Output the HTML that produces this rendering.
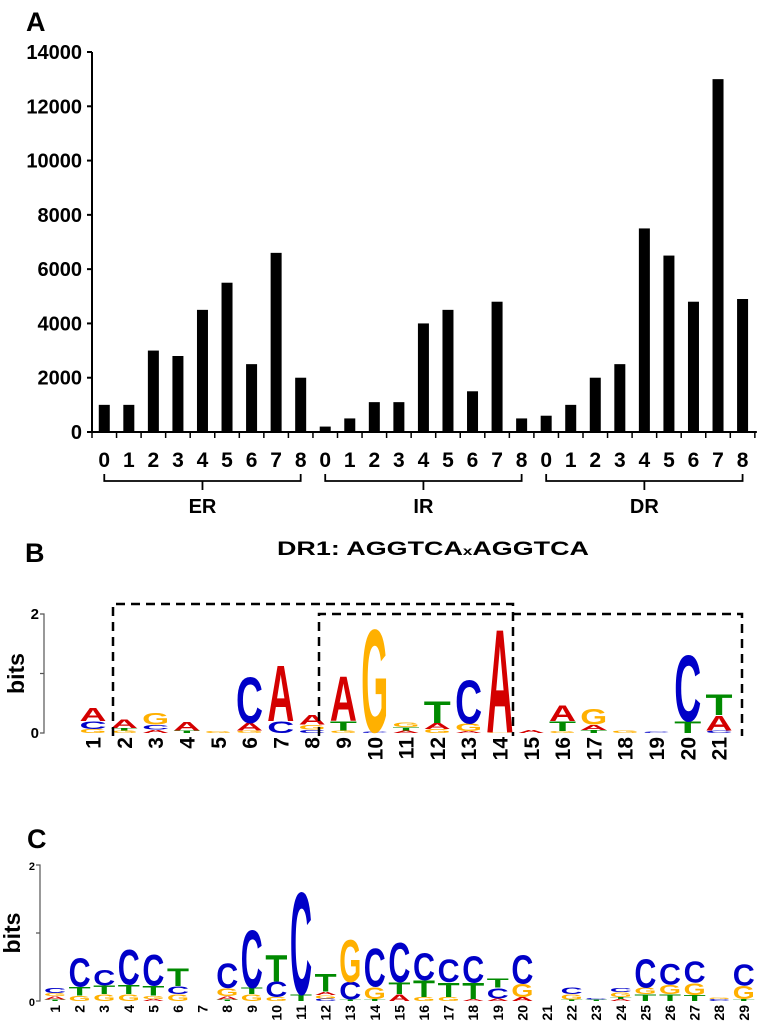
<!DOCTYPE html>
<html><head><meta charset="utf-8">
<style>
html,body{margin:0;padding:0;background:#fff;}
svg{display:block;font-family:"Liberation Sans Narrow","Liberation Sans",sans-serif;}
</style></head>
<body>
<svg id="root" width="760" height="1023" viewBox="0 0 760 1023" xmlns="http://www.w3.org/2000/svg">
  <text x="26" y="31" font-size="27" font-weight="bold" font-family="Liberation Sans,sans-serif">A</text>
  <g id="bars"></g>
  <text x="25" y="562" font-size="27" font-weight="bold" font-family="Liberation Sans,sans-serif">B</text>
  <text x="277" y="555" font-size="19" font-weight="bold" textLength="312" lengthAdjust="spacingAndGlyphs" font-family="Liberation Sans,sans-serif">DR1: AGGTCA<tspan font-size="12">x</tspan>AGGTCA</text>
  <g id="logoB"></g>
  <text x="27" y="848" font-size="27" font-weight="bold">C</text>
  <g id="logoC"></g>
</svg>
<script>
const NS="http://www.w3.org/2000/svg";
// ---- Bar chart data ----
const groups=["ER","IR","DR"];
const spacers=["0","1","2","3","4","5","6","7","8"];
const erValues=[1000,1000,3000,2800,4500,5500,2500,6600,2000];
const irValues=[200,500,1100,1100,4000,4500,1500,4800,500];
const drValues=[600,1000,2000,2500,7500,6500,4800,13000,4900];
const yTicks=[0,2000,4000,6000,8000,10000,12000,14000];

// ---- Logo B data: stacks bottom->top [letter, bits] ----
const logoBLabels=["1","2","3","4","5","6","7","8","9","10","11","12","13","14","15","16","17","18","19","20","21"];
const logoBStacks=[
 [["G",0.07],["C",0.13],["A",0.22]],
 [["G",0.04],["T",0.04],["A",0.14]],
 [["A",0.06],["C",0.08],["G",0.2]],
 [["T",0.04],["A",0.14]],
 [["G",0.03]],
 [["G",0.04],["A",0.13],["C",0.8]],
 [["C",0.2],["A",0.97]],
 [["C",0.06],["G",0.08],["A",0.17]],
 [["G",0.04],["T",0.16],["A",0.77]],
 [["C",0.02],["G",1.78]],
 [["A",0.04],["T",0.06],["G",0.08]],
 [["G",0.07],["A",0.1],["T",0.38]],
 [["A",0.03],["G",0.13],["C",0.75]],
 [["G",0.01],["A",1.79]],
 [["A",0.05]],
 [["G",0.03],["T",0.17],["A",0.27]],
 [["T",0.05],["A",0.09],["G",0.27]],
 [["G",0.04]],
 [["C",0.02]],
 [["T",0.2],["C",1.14]],
 [["C",0.04],["A",0.26],["T",0.36]]
];
// ---- Logo C data ----
const logoCLabels=["1","2","3","4","5","6","7","8","9","10","11","12","13","14","15","16","17","18","19","20","21","22","23","24","25","26","27","28","29"];
const logoCStacks=[
 [["T",0.02],["A",0.05],["G",0.05],["C",0.08]],
 [["G",0.08],["T",0.13],["C",0.43]],
 [["G",0.1],["T",0.13],["C",0.23]],
 [["G",0.1],["T",0.14],["C",0.53]],
 [["A",0.03],["G",0.05],["T",0.15],["C",0.47]],
 [["G",0.1],["C",0.12],["T",0.26]],
 [],
 [["T",0.02],["A",0.05],["G",0.12],["C",0.37]],
 [["G",0.1],["T",0.1],["C",0.87]],
 [["G",0.06],["C",0.23],["T",0.4]],
 [["T",0.1],["C",1.55]],
 [["C",0.04],["G",0.05],["A",0.05],["T",0.26]],
 [["T",0.02],["C",0.26],["G",0.64]],
 [["T",0.03],["G",0.18],["C",0.58]],
 [["A",0.1],["T",0.18],["C",0.6]],
 [["G",0.06],["T",0.25],["C",0.41]],
 [["G",0.06],["T",0.22],["C",0.34]],
 [["A",0.03],["T",0.24],["C",0.4]],
 [["A",0.04],["C",0.16],["T",0.14]],
 [["A",0.06],["G",0.2],["C",0.43]],
 [],
 [["T",0.02],["G",0.08],["C",0.1]],
 [["T",0.02],["C",0.02]],
 [["A",0.03],["T",0.03],["G",0.07],["C",0.06]],
 [["T",0.1],["G",0.1],["C",0.43]],
 [["T",0.1],["G",0.14],["C",0.31]],
 [["T",0.09],["G",0.18],["C",0.32]],
 [["C",0.03],["G",0.02]],
 [["T",0.03],["G",0.2],["C",0.32]]
];
const colors={A:"#d40000",C:"#0000c8",G:"#ffb000",T:"#008a00"};

function el(tag,attrs,parent){const e=document.createElementNS(NS,tag);for(const k in attrs)e.setAttribute(k,attrs[k]);if(parent)parent.appendChild(e);return e;}

// ---- Bar chart ----
(function(){
 const g=document.getElementById('bars');
 const x0=92,step=24.55,y0=432,yTop=52,yMax=14000;
 const ys=v=>y0-(v/yMax)*(y0-yTop);
 const all=[erValues,irValues,drValues];
 const axY=el('line',{x1:x0,y1:yTop,x2:x0,y2:y0,stroke:'#000','stroke-width':2},g);
 
 
 yTicks.forEach(t=>{
  const ln=el('line',{x1:x0-5,y1:ys(t),x2:x0,y2:ys(t),stroke:'#000','stroke-width':2},g);
  
  
  const tx=el('text',{x:x0-10,y:ys(t)+7,'font-size':20,'font-weight':'bold','text-anchor':'end'},g);
  tx.textContent=t;
  
  
 });
 const n=groups.length*spacers.length;
 const axX=el('line',{x1:x0-4,y1:y0,x2:x0+n*step+2,y2:y0,stroke:'#000','stroke-width':2},g);
 
 
 for(let i=0;i<=n;i++){
  const t=el('line',{x1:x0+i*step,y1:y0,x2:x0+i*step,y2:y0+6,stroke:'#000','stroke-width':1.5},g);
  
  
 }
 all.forEach((vals,gi)=>{
  vals.forEach((v,i)=>{
   const idx=gi*spacers.length+i;
   const cx=x0+(idx+0.5)*step;
   const r=el('rect',{x:cx-5.5,y:ys(v),width:11,height:y0-ys(v),fill:'#000'},g);
   
   
   const tl=el('text',{x:cx,y:467,'font-size':21,'font-weight':'bold','text-anchor':'middle'},g);
   tl.textContent=spacers[i];
   
   
  });
  const xa=x0+(gi*spacers.length+0.5)*step, xb=x0+(gi*spacers.length+spacers.length-0.5)*step, xm=(xa+xb)/2;
  const br=el('path',{d:`M${xa} 474 V481 H${xb} V474 M${xm} 481 V490`,fill:'none',stroke:'#000','stroke-width':1.8},g);
  
  
  const gl=el('text',{x:xm,y:513,'font-size':20,'font-weight':'bold','text-anchor':'middle'},g);
  gl.textContent=groups[gi];
  
  
 });
})();

// ---- Logo drawing ----
function drawLogo(gid,labels,stacks,o){
 const g=document.getElementById(gid);
 const ys=b=>o.y0-b*o.pxPerBit;
 const ax=el('path',{d:`M${o.axX-4} ${ys(2)} H${o.axX} V${ys(0)} H${o.axX-4} M${o.axX-4} ${ys(1)} H${o.axX}`,fill:'none',stroke:'#555','stroke-width':1.2},g);
 
 
 [0,1,2].forEach(t=>{
  if(t===1)return;
  const tx=el('text',{x:o.axX-5,y:ys(t)+5,'font-size':o.tickFs,'font-weight':'bold','text-anchor':'end'},g);
  tx.textContent=t;
  
  
 });
 const yl=el('text',{x:0,y:0,'font-size':o.titleFs,'font-weight':'bold','text-anchor':'middle','font-family':'Liberation Sans,sans-serif',transform:`translate(${o.axX-20},${ys(1)}) rotate(-90)`},g);
 yl.textContent='bits';
 
 
 stacks.forEach((st,i)=>{
  const cx=o.x1+i*o.step;
  let base=0;
  st.forEach(([L,b])=>{
   const h=b*o.pxPerBit;
   const t=el('text',{x:0,y:0,'font-size':100,'font-weight':'bold','font-family':'Liberation Sans,sans-serif',fill:colors[L],textLength:o.w,lengthAdjust:'spacingAndGlyphs',transform:`translate(${cx-o.w/2},${ys(base)}) scale(1,${h/72})`},g);
   t.textContent=L;
   
   
   base+=b;
  });
  const lb=el('text',{x:0,y:0,'font-size':o.labFs,'font-weight':'bold','text-anchor':'end','font-family':'Liberation Sans,sans-serif',transform:`translate(${cx+o.labFs*0.36},${o.y0+4}) rotate(-90)`},g);
  lb.textContent=labels[i];
  
  
 });
}
drawLogo('logoB',logoBLabels,logoBStacks,{y0:733,pxPerBit:59.5,axX:44,x1:93,step:31.3,w:27,tickFs:15,titleFs:23,labFs:21});
drawLogo('logoC',logoCLabels,logoCStacks,{y0:1001,pxPerBit:68,axX:40,x1:55,step:24.6,w:22,tickFs:11,titleFs:23,labFs:14});

// dashed boxes for logo B
(function(){
 const g=document.getElementById('logoB');
 const b1=el('path',{d:'M113 736 V604 H513 V736',fill:'none',stroke:'#000','stroke-width':2.5,'stroke-dasharray':'9 6'},g);
 
 
 const b2=el('path',{d:'M319 736 V614 H742 V736',fill:'none',stroke:'#000','stroke-width':2.5,'stroke-dasharray':'9 6'},g);
 
 
})();
</script>
</body></html>
